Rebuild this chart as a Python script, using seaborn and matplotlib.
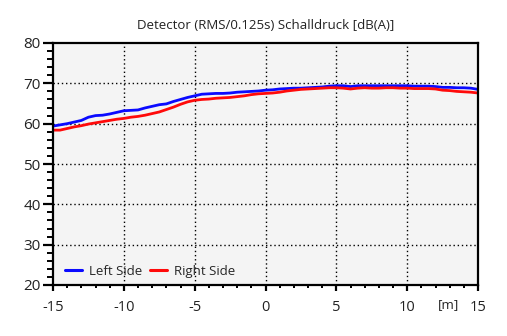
import numpy as np
import pandas as pd
import matplotlib
matplotlib.use("Agg")
import matplotlib.pyplot as plt
from matplotlib.ticker import MultipleLocator
import seaborn as sns

# ---- data ----
positions = [-15 + 0.5 * i for i in range(61)]
left_side = [59.4, 59.7, 60.0, 60.4, 60.8, 61.6, 62.0, 62.1, 62.4, 62.8,
             63.2, 63.3, 63.4, 63.9, 64.3, 64.7, 64.9, 65.5, 66.0, 66.5,
             66.9, 67.3, 67.4, 67.5, 67.5, 67.6, 67.8, 67.9, 68.0, 68.1,
             68.3, 68.4, 68.6, 68.7, 68.8, 68.8, 68.9, 69.0, 69.1, 69.3,
             69.4, 69.4, 69.2, 69.4, 69.4, 69.4, 69.4, 69.4, 69.4, 69.4,
             69.4, 69.3, 69.3, 69.3, 69.2, 69.0, 69.0, 68.9, 68.9, 68.8, 68.5]
right_side = [58.4, 58.4, 58.8, 59.2, 59.5, 59.9, 60.2, 60.5, 60.8, 61.1,
              61.3, 61.6, 61.8, 62.1, 62.5, 62.9, 63.5, 64.1, 64.8, 65.4,
              65.8, 66.0, 66.1, 66.3, 66.4, 66.5, 66.7, 66.9, 67.2, 67.4,
              67.5, 67.6, 67.8, 68.1, 68.3, 68.5, 68.6, 68.7, 68.8, 68.9,
              68.9, 68.8, 68.6, 68.8, 68.9, 68.8, 68.8, 68.9, 68.9, 68.8,
              68.8, 68.7, 68.7, 68.7, 68.6, 68.3, 68.2, 68.0, 67.9, 67.8, 67.6]
series_names = ["Left Side", "Right Side"]
series_colors = ["#0a0aff", "#ff0a0a"]
title = "Detector (RMS/0.125s) Schalldruck [dB(A)]"
x_unit = "[m]"

df = pd.DataFrame({
    "x": positions * 2,
    "y": left_side + right_side,
    "side": [series_names[0]] * len(positions) + [series_names[1]] * len(positions),
})

sns.set_theme(style="white")
plt.rcParams["font.family"] = ["Open Sans", "DejaVu Sans"]
plt.rcParams["axes.unicode_minus"] = False

fig = plt.figure(figsize=(5.07, 3.36), dpi=100)
ax = fig.add_axes([53 / 507, 1 - 285 / 336, (478 - 53) / 507, (285 - 43) / 336])
ax.set_facecolor("#f4f4f4")

sns.lineplot(data=df, x="x", y="y", hue="side", palette=series_colors,
             hue_order=series_names, ax=ax, linewidth=2.0, legend=True)

ax.set_xlim(-15, 15)
ax.set_ylim(20, 80)
ax.xaxis.set_major_locator(MultipleLocator(5))
ax.xaxis.set_minor_locator(MultipleLocator(1))
ax.yaxis.set_major_locator(MultipleLocator(10))
ax.yaxis.set_minor_locator(MultipleLocator(2))
ax.set_xlabel("")
ax.set_ylabel("")

for s in ax.spines.values():
    s.set_color("black")
    s.set_linewidth(1.6)

ax.tick_params(axis="y", which="major", direction="out", length=7, width=1.6,
               color="black", labelsize=11, pad=2, left=True, labelcolor="#222222")
ax.tick_params(axis="y", which="minor", direction="out", length=4, width=1.4,
               color="black", left=True)
ax.tick_params(axis="x", which="major", direction="out", length=4, width=1.6,
               color="black", labelsize=10.5, pad=7, bottom=True, labelcolor="#222222")
ax.tick_params(axis="x", which="minor", direction="out", length=2.5, width=1.4,
               color="black", bottom=True)

ax.grid(False)
for xv in [-10, -5, 0, 5, 10]:
    ax.axvline(xv, color="black", linestyle=(0, (1, 2)), linewidth=1.0, zorder=0.5)
for yv in [30, 40, 50, 60, 70]:
    ax.axhline(yv, color="black", linestyle=(0, (1, 2)), linewidth=1.0, zorder=0.5)

leg = ax.legend(loc="lower left", frameon=False, ncol=2, fontsize=9.5,
                handlelength=1.3, handletextpad=0.5, columnspacing=0.6,
                bbox_to_anchor=(0.0, -0.02))
for line in leg.get_lines():
    line.set_linewidth(2.2)

ax.set_title(title, fontsize=9.5, color="#222222", pad=10)
ax.text(0.93, -0.08, x_unit, transform=ax.transAxes, fontsize=9.5,
        ha="center", va="center", color="#222222")

fig.savefig("out.png", dpi=100, facecolor="white")
